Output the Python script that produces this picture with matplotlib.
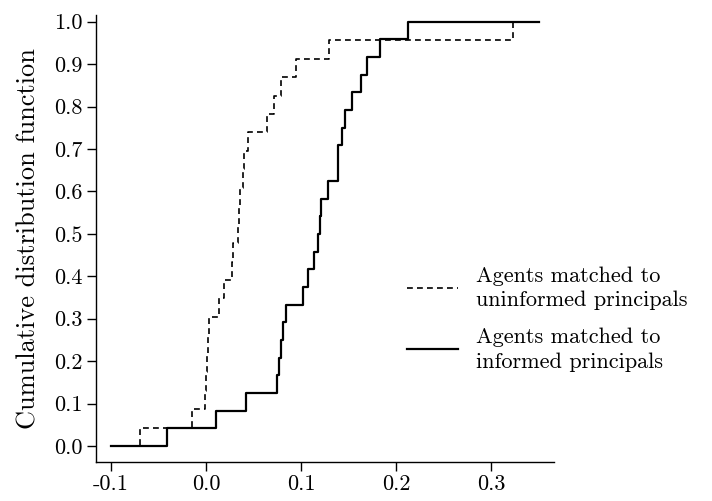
import numpy as np
import matplotlib
matplotlib.use('Agg')
import matplotlib.pyplot as plt
from matplotlib.ticker import FixedLocator, FixedFormatter

plt.rcParams['font.family'] = 'cmr10'
plt.rcParams['mathtext.fontset'] = 'cm'
plt.rcParams['axes.unicode_minus'] = False

uninformed = [-0.0695, -0.015, -0.001, 0.000, 0.001, 0.002, 0.003, 0.0137, 0.019,
              0.027, 0.0285, 0.034, 0.035, 0.036, 0.039, 0.040, 0.044, 0.064,
              0.0716, 0.079, 0.0944, 0.1295, 0.3228]
informed = [-0.0414, 0.0105, 0.0421, 0.0744, 0.0768, 0.0789, 0.0814, 0.0839,
            0.1024, 0.1077, 0.1137, 0.1182, 0.1200, 0.1210, 0.1287, 0.1386,
            0.1387, 0.1435, 0.1468, 0.1537, 0.1630, 0.1692, 0.1832, 0.2129]
x_min, x_max = -0.1, 0.35

label_uninformed = 'Agents matched to\nuninformed principals'
label_informed = 'Agents matched to\ninformed principals'

x_ticks = [-0.1, 0.0, 0.1, 0.2, 0.3]
x_ticklabels = ['-0.1', '0.0', '0.1', '0.2', '0.3']
y_ticks = [round(0.1 * i, 1) for i in range(11)]
y_ticklabels = ['%.1f' % v for v in y_ticks]


def ecdf_xy(values):
    v = np.sort(np.asarray(values))
    n = len(v)
    xs = np.concatenate([[x_min], v, [x_max]])
    ys = np.concatenate([[0.0], np.arange(1, n + 1) / n, [1.0]])
    return xs, ys


fig = plt.figure(figsize=(7.12, 5.01), dpi=100)
ax = fig.add_axes([0.1344, 0.0784, 0.7781 - 0.1344, 0.970 - 0.0784])

xs, ys = ecdf_xy(informed)
ax.step(xs, ys, where='post', color='black', lw=1.6, label=label_informed, zorder=3)
xs, ys = ecdf_xy(uninformed)
ax.step(xs, ys, where='post', color='black', lw=1.2, dashes=(3.5, 2.5),
        label=label_uninformed, zorder=2)

ax.set_xlim(-0.1161, 0.3663)
ax.set_ylim(-0.037, 1.0158)

ax.spines['top'].set_visible(False)
ax.spines['right'].set_visible(False)
for s in ['left', 'bottom']:
    ax.spines[s].set_linewidth(1.0)

ax.xaxis.set_major_locator(FixedLocator(x_ticks))
ax.xaxis.set_major_formatter(FixedFormatter(x_ticklabels))
ax.yaxis.set_major_locator(FixedLocator(y_ticks))
ax.yaxis.set_major_formatter(FixedFormatter(y_ticklabels))
ax.tick_params(axis='both', direction='out', length=6.5, width=1.0, pad=3, labelsize=16)

ax.set_ylabel('Cumulative distribution function', fontsize=19, labelpad=10)

handles, labels = ax.get_legend_handles_labels()
leg = ax.legend(handles[::-1], labels[::-1], loc='upper left',
                bbox_to_anchor=(407 / 712, 1 - 266 / 501), bbox_transform=fig.transFigure,
                frameon=False, fontsize=16, handlelength=2.3, handletextpad=0.8,
                borderpad=0, borderaxespad=0, labelspacing=0.75)
for t in leg.get_texts():
    t.set_linespacing(1.35)

fig.savefig('out.png', dpi=100)
